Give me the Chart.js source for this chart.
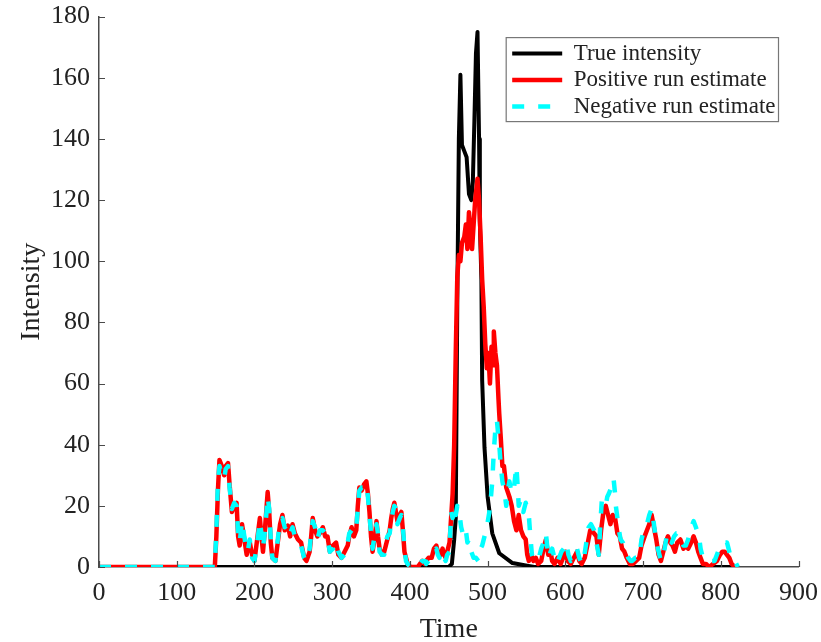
<!DOCTYPE html>
<html>
<head>
<meta charset="utf-8">
<script src="https://cdn.jsdelivr.net/npm/chart.js@4/dist/chart.umd.min.js"></script>
<style>
  html, body { margin: 0; padding: 0; background: #fff; }
  #wrap { width: 821px; height: 642px; }
</style>
</head>
<body>
<div id="wrap"><canvas id="c" width="821" height="642"></canvas></div>
<script>
// ---- Data ----
const seriesLabels = ['True intensity', 'Positive run estimate', 'Negative run estimate'];

const trueX = [0, 450, 454, 457, 459, 461, 463, 465, 467, 470, 473, 476, 479, 481, 483, 485, 487, 489, 490, 492, 493, 496, 500, 506, 515, 532, 549, 560, 820];
const trueY = [0, 0, 1, 9, 16, 87, 140, 161, 138, 136, 134, 122, 120, 126, 146, 168, 175, 140, 113, 94, 61, 39, 23, 11, 4.5, 1.3, 0.5, 0, 0];

const posX = [0, 149, 151, 153, 155, 158, 161, 163, 166, 168, 171, 174, 177, 179, 181, 184, 187, 190, 192, 194, 197, 200, 203, 207, 209, 211, 214, 217, 219, 221, 223, 227, 230, 233, 236, 239, 243, 246, 249, 252, 256, 260, 264, 267, 271, 273, 275, 278, 281, 284, 288, 291, 294, 297, 301, 305, 308, 312, 316, 320, 322, 325, 328, 331, 333, 335, 338, 341, 344, 346, 348, 350, 352, 355, 357, 359, 361, 364, 367, 369, 371, 374, 376, 378, 380, 382, 384, 387, 389, 391, 393, 395, 397, 401, 410, 413, 416, 419, 421, 424, 428, 431, 434, 436, 438, 440, 442, 444, 446, 448, 451, 453, 455, 457, 459, 461, 463, 465, 467, 470, 472, 474, 476, 478, 480, 482, 484, 487, 489, 491, 493, 495, 497, 499, 501, 503, 505, 507, 508, 510, 512, 514, 515, 517, 519, 521, 524, 528, 531, 534, 537, 540, 543, 546, 549, 551, 553, 556, 559, 562, 565, 569, 572, 575, 578, 581, 583, 586, 590, 594, 597, 600, 603, 607, 611, 615, 618, 621, 625, 629, 632, 634, 637, 640, 643, 646, 649, 652, 655, 658, 661, 664, 667, 670, 673, 676, 679, 683, 687, 691, 695, 698, 702, 705, 708, 711, 714, 717, 720, 723, 726, 729, 732, 735, 738, 741, 744, 748, 752, 755, 758, 762, 765, 768, 771, 774, 777, 781, 785, 790, 795, 799, 802, 805, 808, 811, 814, 818, 822];
const posY = [0, 0, 10, 25, 35, 33, 30, 33, 34, 27, 18, 20, 21, 10, 7, 14, 9, 4, 7, 8, 4, 2, 8, 16, 10, 5, 14, 24.5, 18, 8, 3, 2, 8, 14, 17, 12, 13.5, 10, 14, 11, 9, 8, 3, 2, 5, 10, 16, 12, 10, 11, 13, 10, 10, 5, 7, 8, 4, 3, 5, 7, 10, 13, 10, 12, 20, 26, 25, 27, 28, 24, 18, 10, 5, 10, 15, 10, 6, 4, 5, 7, 9, 12, 16, 19, 21, 18, 15, 17, 18, 12, 5, 3, 1, 0, 0, 1, 2, 1, 2, 3, 3, 6, 7, 5, 5, 4, 6, 4, 3, 5, 8, 16, 24, 40, 70, 95, 102, 100, 106, 108, 112, 104, 116, 110, 104, 112, 120, 127, 120, 108, 94, 85, 73, 65, 70, 60, 72, 66, 77, 70, 66, 55, 50, 42, 33, 33, 26, 23, 20, 15, 12, 17, 12, 10, 9, 4, 2, 4, 2, 3, 1, 2, 6, 9, 4, 5, 2, 1, 3, 1, 3, 5, 2, 1, 3, 5, 2, 1, 3, 8, 12, 12, 11, 10, 4, 12, 18, 20, 17, 14, 17, 16, 11, 10, 6, 5, 3, 1, 1, 2, 3, 7, 10, 12, 14, 17, 13, 9, 4, 2, 5, 8, 10, 8, 7, 5, 8, 9, 6, 7, 6, 8, 10, 8, 5, 3, 1, 1, 0, 1, 2, 4, 5, 5, 4, 3, 1, 0, 0];

const negX = [0, 149, 151, 153, 155, 158, 161, 163, 166, 168, 171, 174, 177, 179, 181, 184, 187, 190, 192, 194, 197, 200, 203, 207, 209, 211, 214, 217, 219, 221, 223, 227, 230, 233, 236, 239, 243, 246, 249, 252, 256, 260, 264, 267, 271, 273, 275, 278, 281, 284, 288, 291, 294, 297, 301, 305, 308, 312, 316, 320, 322, 325, 328, 331, 333, 335, 338, 341, 344, 346, 348, 350, 352, 355, 357, 359, 361, 364, 367, 369, 371, 374, 376, 378, 380, 382, 384, 387, 389, 391, 393, 395, 397, 401, 410, 413, 416, 419, 421, 424, 428, 431, 434, 436, 438, 440, 442, 444, 446, 448, 451, 453, 455, 457, 459, 461, 463, 466, 469, 472, 474, 476, 479, 482, 485, 488, 491, 493, 496, 499, 502, 504, 506, 508, 510, 512, 514, 515, 517, 519, 522, 524, 526, 528, 531, 534, 537, 539, 540, 543, 546, 549, 551, 553, 555, 557, 560, 563, 566, 569, 572, 575, 577, 579, 581, 583, 586, 589, 592, 595, 598, 601, 604, 607, 610, 613, 615, 618, 621, 624, 627, 630, 633, 637, 640, 643, 645, 647, 650, 652, 654, 656, 659, 662, 664, 665, 667, 669, 671, 674, 676, 678, 681, 684, 686, 690, 693, 695, 698, 701, 705, 708, 711, 714, 716, 719, 723, 727, 731, 734, 737, 740, 743, 746, 749, 752, 755, 758, 761, 765, 768, 772, 774, 776, 780, 784, 788, 792, 795, 798, 801, 804, 808, 810, 812, 815, 818, 822];
const negY = [0, 0, 12, 28, 33, 30, 29, 32, 33, 26, 19, 21, 20, 11, 8, 15, 10, 5, 6, 9, 3, 2, 7, 15, 11, 6, 13, 23, 19, 9, 3, 2, 9, 15, 16, 13, 14, 11, 13, 10, 8, 7, 3, 2, 6, 11, 15, 13, 9, 12, 12, 11, 9, 5, 6, 8, 5, 3, 4, 8, 11, 12, 11, 13, 19, 25, 26, 26, 27, 23, 17, 11, 6, 11, 14, 11, 5, 4, 4, 8, 10, 11, 15, 18, 20, 19, 14, 16, 17, 13, 6, 2, 1, 0, 0, 1, 2, 2, 1, 2, 3, 5, 6, 4, 3, 5, 5, 3, 2, 4, 5, 18, 16, 20, 17, 20, 19, 13, 10, 12, 8, 9, 5, 3, 3, 2, 6, 7, 10, 13, 17.6, 22, 28, 38, 45, 48, 42, 40, 33, 28, 24, 20, 25, 28, 24, 26, 33, 25, 20, 22, 18, 21, 19, 17, 10, 4, 2, 3, 3, 6, 8, 11, 6, 3, 5, 6, 3, 1, 3, 5, 6, 8, 4, 2, 3, 5, 6, 3, 1, 3, 8, 13, 14, 12, 8, 4, 14, 22, 21, 20, 23, 24, 26, 29, 24, 20, 16, 12, 9, 8, 6, 5, 3, 2, 2, 3, 3, 3, 9, 12, 14, 17, 19, 14, 10, 6, 2, 5, 11, 9, 8, 10, 11, 11, 9, 7, 7, 9, 12, 15, 13, 10, 6, 4, 2, 2, 2, 2, 4, 6, 8, 8, 8, 6, 4, 2, 2, 0];

const xTicks = [0, 100, 200, 300, 400, 500, 600, 700, 800, 900];
const yTicks = [0, 20, 40, 60, 80, 100, 120, 140, 160, 180];

// ---- helpers ----
const pts = (xs, ys) => xs.map((x, i) => ({x: x, y: ys[i]}));
const FONT = "'Liberation Serif', 'Times New Roman', serif";
const AXIS_COLOR = '#4a4a4a';
const TEXT_COLOR = '#222';
const LEGEND_FS = 23;
const LEGEND_PAD = 3.5;

// move legend into top-right of plot area and draw its frame
const legendPlace = {
  id: 'legendPlace',
  afterLayout(chart) {
    const lg = chart.legend, ca = chart.chartArea;
    if (!lg) return;
    const ctx = chart.ctx;
    const lo = lg.options.labels;
    const fs = LEGEND_FS, pad = LEGEND_PAD;
    ctx.save();
    ctx.font = fs + 'px ' + FONT;
    let maxW = 0;
    chart.data.datasets.forEach(d => { maxW = Math.max(maxW, ctx.measureText(d.label).width); });
    ctx.restore();
    const frameRight = ca.right - 20;
    const h = chart.data.datasets.length * (fs + pad) + pad;
    const left = frameRight - 3 - maxW - fs / 2 - lo.pointStyleWidth - pad;
    lg.left = left;
    lg.width = frameRight - left;
    lg.right = frameRight;
    lg.top = ca.top + 22;
    lg.height = h;
    lg.bottom = lg.top + h + 200;
    const fx = left + pad - 6;
    lg._frame = {x: fx, y: lg.top - 1, w: frameRight - fx, h: h + 1};
  },
  afterDraw(chart) {
    const lg = chart.legend;
    if (!lg || !lg._frame) return;
    const f = lg._frame, ctx = chart.ctx;
    ctx.save();
    ctx.strokeStyle = '#777';
    ctx.lineWidth = 1.2;
    ctx.strokeRect(f.x, f.y, f.w, f.h);
    ctx.restore();
  }
};

// inward tick marks (positions from the library's scales)
const inwardTicks = {
  id: 'inwardTicks',
  afterDatasetsDraw(chart) {
    const ctx = chart.ctx, ca = chart.chartArea;
    const xs = chart.scales.x, ys = chart.scales.y;
    ctx.save();
    ctx.strokeStyle = AXIS_COLOR;
    ctx.lineWidth = 1.2;
    ctx.beginPath();
    ys.ticks.forEach((t, i) => {
      const y = Math.round(ys.getPixelForTick(i)) + 0.5;
      ctx.moveTo(ca.left, y); ctx.lineTo(ca.left + 6, y);
    });
    xs.ticks.forEach((t, i) => {
      const x = Math.round(xs.getPixelForTick(i)) + 0.5;
      ctx.moveTo(x, ca.bottom); ctx.lineTo(x, ca.bottom - 6);
    });
    ctx.stroke();
    ctx.restore();
  }
};

new Chart(document.getElementById('c'), {
  type: 'line',
  data: {
    datasets: [
      { label: seriesLabels[0], data: pts(trueX, trueY), borderColor: '#000000', backgroundColor: '#000000', borderWidth: 4, order: 3 },
      { label: seriesLabels[1], data: pts(posX, posY), borderColor: '#ff0000', backgroundColor: '#ff0000', borderWidth: 4.5, order: 2 },
      { label: seriesLabels[2], data: pts(negX, negY), borderColor: '#00ffff', backgroundColor: '#00ffff', borderWidth: 4.5, borderDash: [12, 14], order: 1 }
    ]
  },
  options: {
    responsive: false,
    animation: false,
    devicePixelRatio: 1,
    layout: { padding: { left: 0, right: 16, top: 9, bottom: 0 } },
    elements: { point: { radius: 0 }, line: { tension: 0, borderJoinStyle: 'round', borderCapStyle: 'butt' } },
    plugins: {
      tooltip: { enabled: false },
      legend: {
        display: true,
        position: 'chartArea',
        align: 'start',
        labels: {
          usePointStyle: true,
          pointStyle: 'line',
          pointStyleWidth: 50,
          padding: LEGEND_PAD,
          color: TEXT_COLOR,
          font: { family: FONT, size: LEGEND_FS },
          generateLabels(chart) {
            return chart.data.datasets.map((d, i) => ({
              text: d.label,
              datasetIndex: i,
              strokeStyle: d.borderColor,
              fillStyle: d.borderColor,
              lineWidth: d.borderWidth,
              lineDash: d.borderDash || [],
              lineCap: 'butt',
              pointStyle: 'line',
              hidden: false,
              fontColor: TEXT_COLOR
            }));
          }
        }
      }
    },
    scales: {
      x: {
        type: 'linear',
        min: xTicks[0],
        max: xTicks[xTicks.length - 1],
        afterBuildTicks(scale) { scale.ticks = xTicks.map(v => ({value: v})); },
        afterFit(scale) { scale.height = 75; },
        grid: { display: false },
        border: { display: true, color: AXIS_COLOR, width: 1.5 },
        ticks: { color: TEXT_COLOR, font: { family: FONT, size: 26 }, padding: 3, maxRotation: 0 },
        title: { display: true, text: 'Time', color: TEXT_COLOR, font: { family: FONT, size: 28 }, padding: { top: 0, bottom: -4 } }
      },
      y: {
        type: 'linear',
        min: yTicks[0],
        max: yTicks[yTicks.length - 1],
        afterBuildTicks(scale) { scale.ticks = yTicks.map(v => ({value: v})); },
        afterFit(scale) { scale.width = 99; },
        grid: { display: false },
        border: { display: true, color: AXIS_COLOR, width: 1.5 },
        ticks: { color: TEXT_COLOR, font: { family: FONT, size: 26 }, padding: 1 },
        title: { display: true, text: 'Intensity', color: TEXT_COLOR, font: { family: FONT, size: 28 }, padding: { top: 15, bottom: 0 } }
      }
    }
  },
  plugins: [legendPlace, inwardTicks]
});
</script>
</body>
</html>
